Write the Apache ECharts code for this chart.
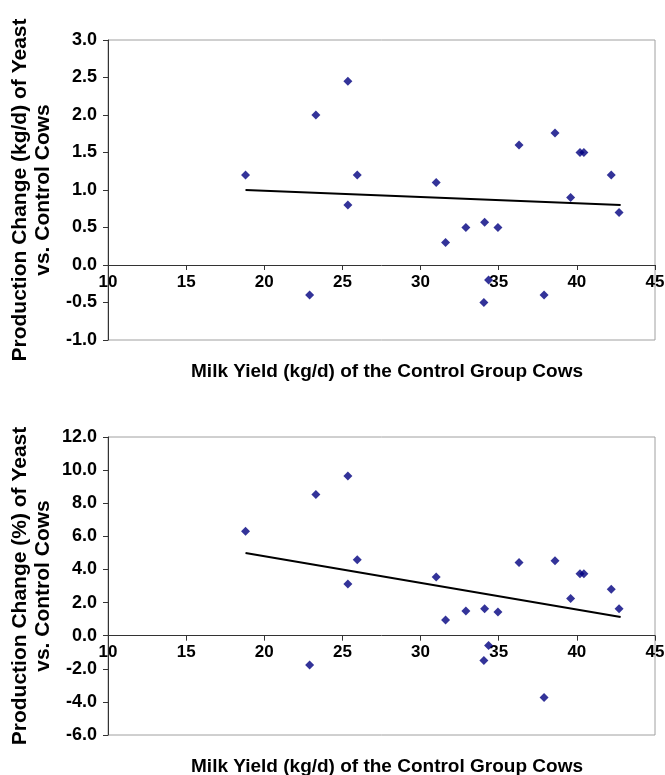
<!DOCTYPE html>
<html>
<head>
<meta charset="utf-8">
<script src="https://cdn.jsdelivr.net/npm/echarts@6/dist/echarts.min.js"></script>
<style>
  html, body { margin: 0; padding: 0; background: #fff; }
  #milk { width: 665px; height: 775px; }
</style>
</head>
<body>
<div id="milk"></div>
<script>
// milk yield of the control group cows (kg/d), same cows in both panels
var milkYield = [18.8, 22.9, 23.3, 25.35, 25.35, 25.95, 31.0, 31.6, 32.9, 34.05, 34.1,
                 34.35, 34.95, 36.3, 37.9, 38.6, 39.6, 40.2, 40.45, 42.2, 42.7];
// production change, kg/d
var changeKg = [1.2, -0.4, 2.0, 2.45, 0.8, 1.2, 1.1, 0.3, 0.5, -0.5, 0.57,
                -0.2, 0.5, 1.6, -0.4, 1.76, 0.9, 1.5, 1.5, 1.2, 0.7];
// production change, %
var changePct = [6.3, -1.77, 8.53, 9.65, 3.12, 4.59, 3.55, 0.95, 1.49, -1.5, 1.63,
                 -0.6, 1.43, 4.42, -3.73, 4.53, 2.24, 3.74, 3.74, 2.8, 1.63];
// trend line ends as drawn
var trendX = [18.8, 42.8];
var trendKg = [1.0, 0.80];
var trendPct = [4.99, 1.13];

var xTitle = 'Milk Yield (kg/d) of the Control Group Cows';
var yTitles = ['Production Change (kg/d) of Yeast\nvs. Control Cows',
               'Production Change (%) of Yeast\nvs. Control Cows'];

function pairs(xs, ys) {
    return xs.map(function (x, i) { return [x, ys[i]]; });
}

var font = "'Liberation Sans', Arial, sans-serif";
var myChart = echarts.init(document.getElementById('milk'));

// labels sit under the zero line, not at the grid bottom
function xAxisFor(idx, labelMargin) {
    return {
        type: 'value', gridIndex: idx, min: 10, max: 45, interval: 5,
        axisLine: { onZero: true, lineStyle: { color: '#333', width: 1 } },
        axisTick: { show: true, length: 5, lineStyle: { color: '#333' } },
        axisLabel: { margin: labelMargin, color: '#000', fontSize: 17, fontWeight: 'bold', fontFamily: font },
        splitLine: { show: false }
    };
}

function yAxisFor(idx, mn, mx, step) {
    return {
        type: 'value', gridIndex: idx, min: mn, max: mx, interval: step,
        name: yTitles[idx], nameLocation: 'middle', nameGap: 53, nameRotate: 90,
        nameMoveOverlap: false,
        nameTextStyle: { color: '#000', fontSize: 21, fontWeight: 'bold', fontFamily: font, lineHeight: 23 },
        axisLine: { show: true, onZero: false, lineStyle: { color: '#333', width: 1 } },
        axisTick: { show: true, length: 5, lineStyle: { color: '#333' } },
        axisLabel: {
            margin: 11, color: '#000', fontSize: 18, fontWeight: 'bold', fontFamily: font,
            formatter: function (v) { return v.toFixed(1); }
        },
        splitLine: { show: false }
    };
}

function dots(idx, ys) {
    return {
        type: 'scatter', xAxisIndex: idx, yAxisIndex: idx,
        symbol: 'diamond', symbolSize: 9,
        itemStyle: { color: '#00007f' },
        data: pairs(milkYield, ys)
    };
}

function trend(idx, ys) {
    return {
        type: 'line', xAxisIndex: idx, yAxisIndex: idx,
        showSymbol: false, silent: true,
        lineStyle: { color: '#000', width: 2 },
        data: pairs(trendX, ys)
    };
}

myChart.setOption({
    backgroundColor: '#fff',
    animation: false,
    title: [
        { text: xTitle, left: 382, top: 357, textAlign: 'center',
          textStyle: { color: '#000', fontSize: 19, fontWeight: 'bold', fontFamily: font } },
        { text: xTitle, left: 382, top: 752, textAlign: 'center',
          textStyle: { color: '#000', fontSize: 19, fontWeight: 'bold', fontFamily: font } }
    ],
    grid: [
        { left: 108, top: 40, width: 547, height: 300, outerBoundsMode: 'none',
          show: true, borderColor: '#a0a0a0', borderWidth: 1 },
        { left: 108, top: 437, width: 547, height: 298, outerBoundsMode: 'none',
          show: true, borderColor: '#a0a0a0', borderWidth: 1 }
    ],
    xAxis: [xAxisFor(0, -66), xAxisFor(1, -91)],
    yAxis: [yAxisFor(0, -1, 3, 0.5), yAxisFor(1, -6, 12, 2)],
    series: [
        dots(0, changeKg), trend(0, trendKg),
        dots(1, changePct), trend(1, trendPct)
    ]
});

window.addEventListener('resize', function () { myChart.resize(); });
</script>
</body>
</html>
